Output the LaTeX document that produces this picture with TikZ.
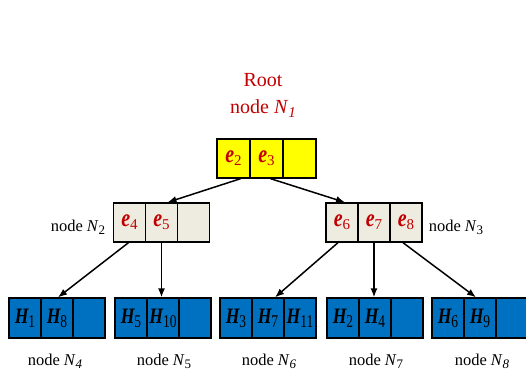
\documentclass[tikz,border=0pt]{standalone}
\usepackage{fontspec}
\usepackage{graphicx}
\setmainfont{Liberation Serif}
\usetikzlibrary{arrows.meta}
\definecolor{rootred}{HTML}{C00000}
\definecolor{yel}{HTML}{FFFF00}
\definecolor{beige}{HTML}{EEECE1}
\definecolor{blu}{HTML}{0070C0}
\newcommand{\ee}[1]{\scalebox{0.8}[1]{\fontsize{25}{25}\selectfont\bfseries\itshape e}\raisebox{-3pt}{\fontsize{15}{15}\selectfont #1}}
\newcommand{\hh}[1]{\scalebox{0.8}[1]{\fontsize{22}{22}\selectfont\bfseries\itshape H}\raisebox{-4pt}{\scalebox{0.75}[1]{\fontsize{18}{18}\selectfont #1}}}
\newcommand{\lsub}[1]{\raisebox{-3.5pt}{\fontsize{13}{13}\selectfont #1}}
\begin{document}
\begin{tikzpicture}[x=1pt,y=-1pt,
  cell/.style={draw=black, line width=1.3pt, minimum width=32pt, minimum height=39pt, inner sep=0pt},
  rcell/.style={cell, fill=yel, minimum width=33pt, text=rootred},
  icell/.style={cell, fill=beige, text=rootred},
  lcell/.style={cell, fill=blu, minimum height=40pt, text=black},
  lbl/.style={anchor=base, inner sep=0pt, font=\fontsize{16.5}{16.5}\selectfont},
  rlbl/.style={anchor=base, inner sep=0pt, text=rootred, font=\fontsize{20}{20}\selectfont},
  arr/.style={line width=1.5pt, -{Latex[length=9pt,width=7pt]}}]
\useasboundingbox (0,0) rectangle (526,372);
% root
\node[rlbl] (rootlbl) at (263,86) {Root};
\node[rlbl] (n1lbl) at (263,113) {node \textit{N}\raisebox{-4pt}{\fontsize{15}{15}\selectfont\textit{1}}};
\node[rcell] (r1) at (233.5,158.5) {\ee{2}};
\node[rcell] (r2) at (266.5,158.5) {\ee{3}};
\node[rcell] (r3) at (299.5,158.5) {};
% N2
\node[icell] (n2a) at (129.5,222.5) {\ee{4}};
\node[icell] (n2b) at (161.5,222.5) {\ee{5}};
\node[icell] (n2c) at (193.5,222.5) {};
\node[lbl] (n2lbl) at (78,231) {node \textit{N}\lsub{2}};
% N3
\node[icell] (n3a) at (342,222.5) {\ee{6}};
\node[icell] (n3b) at (374,222.5) {\ee{7}};
\node[icell] (n3c) at (406,222.5) {\ee{8}};
\node[lbl] (n3lbl) at (456,231) {node \textit{N}\lsub{3}};
% leaves
\node[lcell] (n4a) at (25,318) {\hh{1}};
\node[lcell] (n4b) at (57,318) {\hh{8}};
\node[lcell] (n4c) at (89,318) {};
\node[lcell] (n5a) at (131,318) {\hh{5}};
\node[lcell] (n5b) at (163,318) {\hh{10}};
\node[lcell] (n5c) at (195,318) {};
\node[lcell] (n6a) at (236,318) {\hh{3}};
\node[lcell] (n6b) at (268,318) {\hh{7}};
\node[lcell] (n6c) at (300,318) {\hh{11}};
\node[lcell] (n7a) at (343,318) {\hh{2}};
\node[lcell] (n7b) at (375,318) {\hh{4}};
\node[lcell] (n7c) at (407,318) {};
\node[lcell] (n8a) at (448,318) {\hh{6}};
\node[lcell] (n8b) at (480,318) {\hh{9}};
\node[lcell] (n8c) at (512,318) {};
\node[lbl] (n4lbl) at (55,365) {node \textit{N}\lsub{\textit{4}}};
\node[lbl] (n5lbl) at (164,365) {node \textit{N}\lsub{5}};
\node[lbl] (n6lbl) at (269,365) {node \textit{N}\lsub{\textit{6}}};
\node[lbl] (n7lbl) at (376,365) {node \textit{N}\lsub{7}};
\node[lbl] (n8lbl) at (482,365) {node \textit{N}\lsub{\textit{8}}};
% arrows
\draw[arr] ([xshift=-10pt]r1.south east) -- ([xshift=6pt]n2b.north);
\draw[arr] ([xshift=4pt]r2.south) -- ([xshift=3pt]n3a.north);
\draw[arr] ([xshift=-1pt]n2a.south) -- ([xshift=1pt]n4b.north);
\draw[arr] (n2b.south) -- (n2b.south |- n5b.north);
\draw[arr] ([xshift=-4pt]n3a.south) -- ([xshift=7pt]n6b.north);
\draw[arr] (n3b.south) -- (n3b.south |- n7b.north);
\draw[arr] ([xshift=-3pt]n3c.south) -- ([xshift=-4pt]n8b.north);
\end{tikzpicture}
\end{document}
